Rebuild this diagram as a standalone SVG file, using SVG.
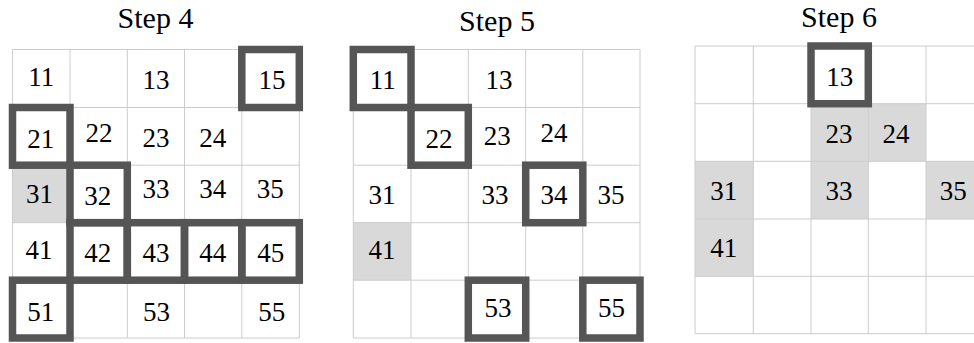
<svg xmlns="http://www.w3.org/2000/svg" width="974" height="343" viewBox="0 0 974 343">
<defs>
<style>
.bg{fill:#ffffff}
.grid{stroke:#cccccc;stroke-width:1;fill:none}
.shade{fill:#d9d9d9}
.hl{fill:none;stroke:#555555;stroke-width:7.5}
text{font-family:'Liberation Serif','Times New Roman',Times,Tinos,'Nimbus Roman','Nimbus Roman No9 L',FreeSerif,'DejaVu Serif',serif;fill:#000;text-anchor:middle}
.num{font-size:27px}
.title{font-size:30px}
</style>
</defs>
<rect class="bg" x="0" y="0" width="974" height="343"/>
<g id="panel-step4">
  <text class="title" x="155.5" y="27.5">Step 4</text>
  <rect class="shade" x="12.5" y="165.2" width="57.5" height="57.5"/>
  <g class="grid">
    <path d="M12.5 49.5V338M70 49.5V338M127.3 49.5V338M184.5 49.5V338M241.8 49.5V338M299.3 49.5V338"/>
    <path d="M12.5 49.5H299.3M12.5 107.5H299.3M12.5 165.2H299.3M12.5 222.7H299.3M12.5 280.2H299.3M12.5 338H299.3"/>
  </g>
  <g id="s4-boxes">
    <rect class="hl" x="241.8" y="49.5" width="57.5" height="58"/>
    <rect class="hl" x="12.5" y="107.5" width="57.5" height="57.7"/>
    <rect class="hl" x="70" y="165.2" width="57.3" height="57.5"/>
    <rect class="hl" x="70" y="222.7" width="57.3" height="57.5"/>
    <rect class="hl" x="127.3" y="222.7" width="57.2" height="57.5"/>
    <rect class="hl" x="184.5" y="222.7" width="57.3" height="57.5"/>
    <rect class="hl" x="241.8" y="222.7" width="57.5" height="57.5"/>
    <rect class="hl" x="12.5" y="280.2" width="57.5" height="57.8"/>
  </g>
  <g id="s4-11"><text class="num" x="41.3" y="85.5">11</text></g>
  <g id="s4-13"><text class="num" x="155.9" y="89.3">13</text></g>
  <g id="s4-15"><text class="num" x="272" y="89.3">15</text></g>
  <g id="s4-21"><text class="num" x="40.8" y="148.3">21</text></g>
  <g id="s4-22"><text class="num" x="99" y="141.7">22</text></g>
  <g id="s4-23"><text class="num" x="155.9" y="146.7">23</text></g>
  <g id="s4-24"><text class="num" x="212.8" y="146.7">24</text></g>
  <g id="s4-31"><text class="num" x="39.5" y="203.3">31</text></g>
  <g id="s4-32"><text class="num" x="97.8" y="205">32</text></g>
  <g id="s4-33"><text class="num" x="155.9" y="198.3">33</text></g>
  <g id="s4-34"><text class="num" x="212.8" y="198.3">34</text></g>
  <g id="s4-35"><text class="num" x="270.2" y="198.3">35</text></g>
  <g id="s4-41"><text class="num" x="39" y="259.3">41</text></g>
  <g id="s4-42"><text class="num" x="97.8" y="261.7">42</text></g>
  <g id="s4-43"><text class="num" x="155.9" y="261.7">43</text></g>
  <g id="s4-44"><text class="num" x="212.8" y="261.7">44</text></g>
  <g id="s4-45"><text class="num" x="270.8" y="261.7">45</text></g>
  <g id="s4-51"><text class="num" x="40.8" y="320.7">51</text></g>
  <g id="s4-53"><text class="num" x="156.5" y="320.7">53</text></g>
  <g id="s4-55"><text class="num" x="271.7" y="320.7">55</text></g>
</g>

<g id="panel-step5">
  <text class="title" x="497" y="30.5">Step 5</text>
  <rect class="shade" x="353.3" y="222.7" width="57.7" height="57.5"/>
  <g class="grid">
    <path d="M353.3 49.5V338M411 49.5V338M468.3 49.5V338M525.7 49.5V338M582.8 49.5V338M640 49.5V338"/>
    <path d="M353.3 49.5H640M353.3 107.5H640M353.3 165.2H640M353.3 222.7H640M353.3 280.2H640M353.3 338H640"/>
  </g>
  <g id="s5-boxes">
    <rect class="hl" x="353.3" y="49.5" width="57.7" height="58"/>
    <rect class="hl" x="411" y="107.5" width="57.3" height="57.7"/>
    <rect class="hl" x="525.7" y="165.2" width="57.1" height="57.5"/>
    <rect class="hl" x="468.3" y="280.2" width="57.4" height="57.8"/>
    <rect class="hl" x="582.8" y="280.2" width="57.2" height="57.8"/>
  </g>
  <g id="s5-11"><text class="num" x="382.8" y="89.3">11</text></g>
  <g id="s5-13"><text class="num" x="499" y="89.3">13</text></g>
  <g id="s5-22"><text class="num" x="439" y="148.3">22</text></g>
  <g id="s5-23"><text class="num" x="497.3" y="145">23</text></g>
  <g id="s5-24"><text class="num" x="554" y="141.7">24</text></g>
  <g id="s5-31"><text class="num" x="382" y="204">31</text></g>
  <g id="s5-33"><text class="num" x="495" y="204">33</text></g>
  <g id="s5-34"><text class="num" x="554" y="204">34</text></g>
  <g id="s5-35"><text class="num" x="611" y="204">35</text></g>
  <g id="s5-41"><text class="num" x="382" y="259.3">41</text></g>
  <g id="s5-53"><text class="num" x="498" y="316.7">53</text></g>
  <g id="s5-55"><text class="num" x="611.5" y="316.7">55</text></g>
</g>

<g id="panel-step6">
  <text class="title" x="839" y="26.5">Step 6</text>
  <g id="s6-shade">
    <rect class="shade" x="811" y="103.7" width="57.3" height="57.6"/>
    <rect class="shade" x="868.3" y="103.7" width="57.7" height="57.6"/>
    <rect class="shade" x="695" y="161.3" width="58.3" height="57.7"/>
    <rect class="shade" x="811" y="161.3" width="57.3" height="57.7"/>
    <rect class="shade" x="926" y="161.3" width="57.5" height="57.7"/>
    <rect class="shade" x="695" y="219" width="58.3" height="57.3"/>
  </g>
  <g class="grid">
    <path d="M695 46V333.7M753.3 46V333.7M811 46V333.7M868.3 46V333.7M926 46V333.7"/>
    <path d="M695 46H983.5M695 103.7H983.5M695 161.3H983.5M695 219H983.5M695 276.3H983.5M695 333.7H983.5"/>
  </g>
  <g id="s6-boxes">
    <rect class="hl" x="811" y="46" width="57.3" height="57.7"/>
  </g>
  <g id="s6-13"><text class="num" x="839.7" y="86">13</text></g>
  <g id="s6-23"><text class="num" x="839" y="143.3">23</text></g>
  <g id="s6-24"><text class="num" x="896" y="143.3">24</text></g>
  <g id="s6-31"><text class="num" x="723.7" y="200">31</text></g>
  <g id="s6-33"><text class="num" x="839" y="200">33</text></g>
  <g id="s6-35"><text class="num" x="953.3" y="200">35</text></g>
  <g id="s6-41"><text class="num" x="723.7" y="257.3">41</text></g>
</g>
<g id="connectors"></g>
</svg>
